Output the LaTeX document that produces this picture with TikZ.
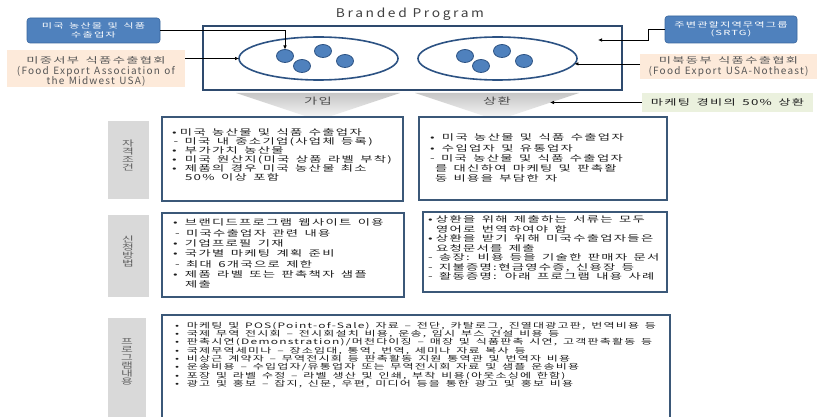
\documentclass[tikz,border=0pt]{standalone}
\usepackage{fontspec}
\newfontfamily\kr[LetterSpace=16,FakeStretch=1.6,WordSpace=1.5]{Noto Sans CJK KR}
\newfontfamily\krl[LetterSpace=12,WordSpace=1.3]{Noto Sans CJK KR}
\newfontfamily\krt[LetterSpace=22,FakeStretch=1.15]{Noto Sans CJK KR}
\usetikzlibrary{shapes.geometric,arrows.meta}
\definecolor{boxblue}{HTML}{4F81BD}
\definecolor{boxblueD}{HTML}{3A679E}
\definecolor{frame}{HTML}{2E4A6E}
\definecolor{ellc}{HTML}{2C5283}
\definecolor{peach}{HTML}{FDEADA}
\definecolor{lgreen}{HTML}{EBF1DE}
\definecolor{lgray}{HTML}{D9D9D9}
\definecolor{txt}{HTML}{1E1E1E}
\definecolor{cframe}{HTML}{3B5878}
\newcommand{\bu}[1]{\makebox[#1][l]{•}}
\newcommand{\fs}[2]{\fontsize{#1}{#2}\selectfont\lineskiplimit=-20pt\lineskip=0pt}
\begin{document}
\begin{tikzpicture}[x=1pt,y=-1pt,
  every node/.style={inner sep=0pt, outer sep=0pt},
  mainbox/.style={draw=frame, line width=2pt},
  ell/.style={ellipse, draw=ellc, line width=1.6pt, fill=white},
  dot/.style={ellipse, draw=ellc, line width=0.8pt, fill=boxblue, minimum width=17pt, minimum height=13pt},
  bluebox/.style={rounded corners=3pt, fill=boxblue, draw=boxblueD, line width=0.6pt, text=white, align=center, font=\kr\fs{7}{8.5}},
  peachbox/.style={fill=peach, text=txt!75, align=center, font=\krl\fs{10}{10.5}},
  greenbox/.style={fill=lgreen, text=txt, align=center, font=\kr\fs{8.3}{10}},
  labelbox/.style={fill=lgray},
  labeltext/.style={text=txt!70, align=center, font=\kr\fs{8}{8}},
  cbox/.style={draw=cframe, line width=1.8pt, fill=white},
  ctext/.style 2 args={anchor=north west, align=left, text=txt, font=\kr\fs{#1}{#2}},
  chev/.style={top color=gray!45, bottom color=gray!8},
  chevtext/.style={text=txt!80, font=\kr\fs{9}{10}},
  arr/.style={-{Latex[length=4pt,width=3.5pt]}, line width=0.7pt, black},
]
\useasboundingbox (0,0) rectangle (817,417);
\fill[white] (0,0) rectangle (817,417);

% title and main frame
\node[text=txt!85, font=\krt\fontsize{12}{14}\selectfont] (title) at (410,14) {Branded Program};
\node[mainbox, anchor=north west, minimum width=419pt, minimum height=64pt] (main) at (203,26) {};

% ellipses and dots
\node[ell, minimum width=159pt, minimum height=43pt] (e1) at (318.5,58.5) {};
\node[ell, minimum width=159pt, minimum height=43pt] (e2) at (497.5,58.5) {};
\node[dot] (c1) at (285,56) {};
\node[dot] (c2) at (302,66) {};
\node[dot] (c3) at (323,51) {};
\node[dot] (c4) at (345,61) {};
\node[dot] (c5) at (465,56) {};
\node[dot] (c6) at (481,66) {};
\node[dot] (c7) at (502,51) {};
\node[dot] (c8) at (524,61) {};

% side boxes
\node[bluebox, anchor=north west, minimum width=133pt, minimum height=25pt] (b1) at (27,18) {미국 농산물 및 식품\\수출업자};
\node[peachbox, anchor=north west, minimum width=178pt, minimum height=37pt] (p1) at (7,50) {{\kr\fs{8.3}{10.5}\rule{0pt}{13pt}미중서부 식품수출협회}\\(Food Export Association of\\the Midwest USA)};
\node[bluebox, anchor=north west, minimum width=132pt, minimum height=27pt] (b2) at (665,16) {주변관할지역무역그룹\\(SRTG)};
\node[peachbox, anchor=north west, minimum width=177pt, minimum height=25pt] (p2) at (640,54) {{\kr\fs{8.3}{10.5}미북동부 식품수출협회}\\(Food Export USA-Notheast)};
\node[greenbox, anchor=north west, minimum width=171pt, minimum height=19pt] (g1) at (642,93) {마케팅 경비의 50\% 상환};

% chevrons
\shade[chev] (236,93) -- (400,93) -- (328,117) -- (308,117) -- cycle;
\shade[chev] (415,93) -- (579,93) -- (507,117) -- (487,117) -- cycle;
\node[chevtext] (l1) at (318,101) {가입};
\node[chevtext] (l2) at (497,101) {상환};
\coordinate (ga) at (550,102.5);
\coordinate (st) at (598,40);

% connectors
\draw[arr] (b1.east) -| (c1.north);
\draw[arr] (p1.east |- e1.west) -- (e1.west);
\draw[arr] (b2.west) -- ++(-17,0) |- (st);
\draw[arr] (p2.west |- e2.-4) -- (e2.-4);
\draw[arr] (g1.west) -- (ga);

% row label boxes
\node[labelbox, anchor=north west, minimum width=41pt, minimum height=78pt] (g1box) at (108,121) {};
\node[labelbox, anchor=north west, minimum width=41pt, minimum height=82pt] (g2box) at (108,215) {};
\node[labelbox, anchor=north west, minimum width=38pt, minimum height=110pt] (g3box) at (108,318) {};
\node[labeltext] (g1t) at (128,155) {자\\격\\조\\건};
\node[labeltext] (g2t) at (128,251) {신\\청\\방\\법};
\node[labeltext] (g3t) at (127,362) {프\\로\\그\\램\\내\\용};

% content boxes
\node[cbox, anchor=north west, minimum width=241pt, minimum height=84pt] (L1) at (162,117) {};
\node[cbox, anchor=north west, minimum width=248pt, minimum height=83pt] (R1) at (419,117) {};
\node[cbox, anchor=north west, minimum width=242pt, minimum height=84pt] (L2) at (162,213) {};
\node[cbox, anchor=north west, minimum width=244pt, minimum height=80pt] (R2) at (423,212) {};
\node[cbox, anchor=north west, minimum width=508pt, minimum height=115pt] (L3) at (162,315) {};

\node[ctext={8.3}{9}] (L1t) at (172,129) {\bu{8pt}미국 농산물 및 식품 수출업자\\
\hspace{1.5pt}- 미국 내 중소기업(사업체 등록)\\
\bu{13pt}부가가치 농산물\\
\bu{13pt}미국 원산지(미국 상품 라벨 부착)\\
\bu{13pt}제품의 경우 미국 농산물 최소\\
\hspace{13pt}50\% 이상 포함};

\node[ctext={8.3}{10.2}] (R1t) at (430,134) {\bu{12pt}미국 농산물 및 식품 수출업자\\
\bu{12pt}수입업자 및 유통업자\\
- 미국 농산물 및 식품 수출업자\\
\hspace{5pt}를 대신하여 마케팅 및 판촉활\\
\hspace{5pt}동 비용을 부담한 자};

\node[ctext={8.3}{10.3}] (L2t) at (173,219) {\bu{12pt}브랜디드프로그램 웹사이트 이용\\
\hspace{2pt}- 미국수출업자 관련 내용\\
\bu{12pt}기업프로필 기재\\
\bu{12pt}국가별 마케팅 계획 준비\\
\hspace{2pt}- 최대 6개국으로 제한\\
\bu{12pt}제품 라벨 또는 판촉책자 샘플\\
\hspace{12pt}제출};

\node[ctext={8.3}{9.5}] (R2t) at (428,216) {\bu{8pt}상환을 위해 제출하는 서류는 모두\\
\hspace{8pt}영어로 번역하여야 함\\
\bu{8pt}상환을 받기 위해 미국수출업자들은\\
\hspace{8pt}요청문서를 제출\\
- 송장: 비용 등을 기술한 판매자 문서\\
- 지불증명:현금영수증, 신용장 등\\
- 활동증명: 아래 프로그램 내용 사례};

\node[ctext={7.5}{8.3}] (L3t) at (175,322) {\bu{12pt}마케팅 및 POS(Point-of-Sale) 자료 – 전단, 카탈로그, 진열대광고판, 번역비용 등\\
\bu{12pt}국제 무역 전시회 – 전시회설치 비용, 운송, 임시 부스 건설 비용 등\\
\bu{12pt}판촉시연(Demonstration)/머천다이징 – 매장 및 식품판촉 시연, 고객판촉활동 등\\
\bu{12pt}국제무역세미나 – 장소임대, 통역, 번역, 세미나 자료 복사 등\\
\bu{12pt}비상근 계약자 – 무역전시회 등 판촉활동 지원 통역관 및 번역자 비용\\
\bu{12pt}운송비용 – 수입업자/유통업자 또는 무역전시회 자료 및 샘플 운송비용\\
\bu{12pt}포장 및 라벨 수정 – 라벨 생산 및 인쇄, 부착 비용(아웃소싱에 한함)\\
\bu{12pt}광고 및 홍보 – 잡지, 신문, 우편, 미디어 등을 통한 광고 및 홍보 비용};
\end{tikzpicture}
\end{document}
